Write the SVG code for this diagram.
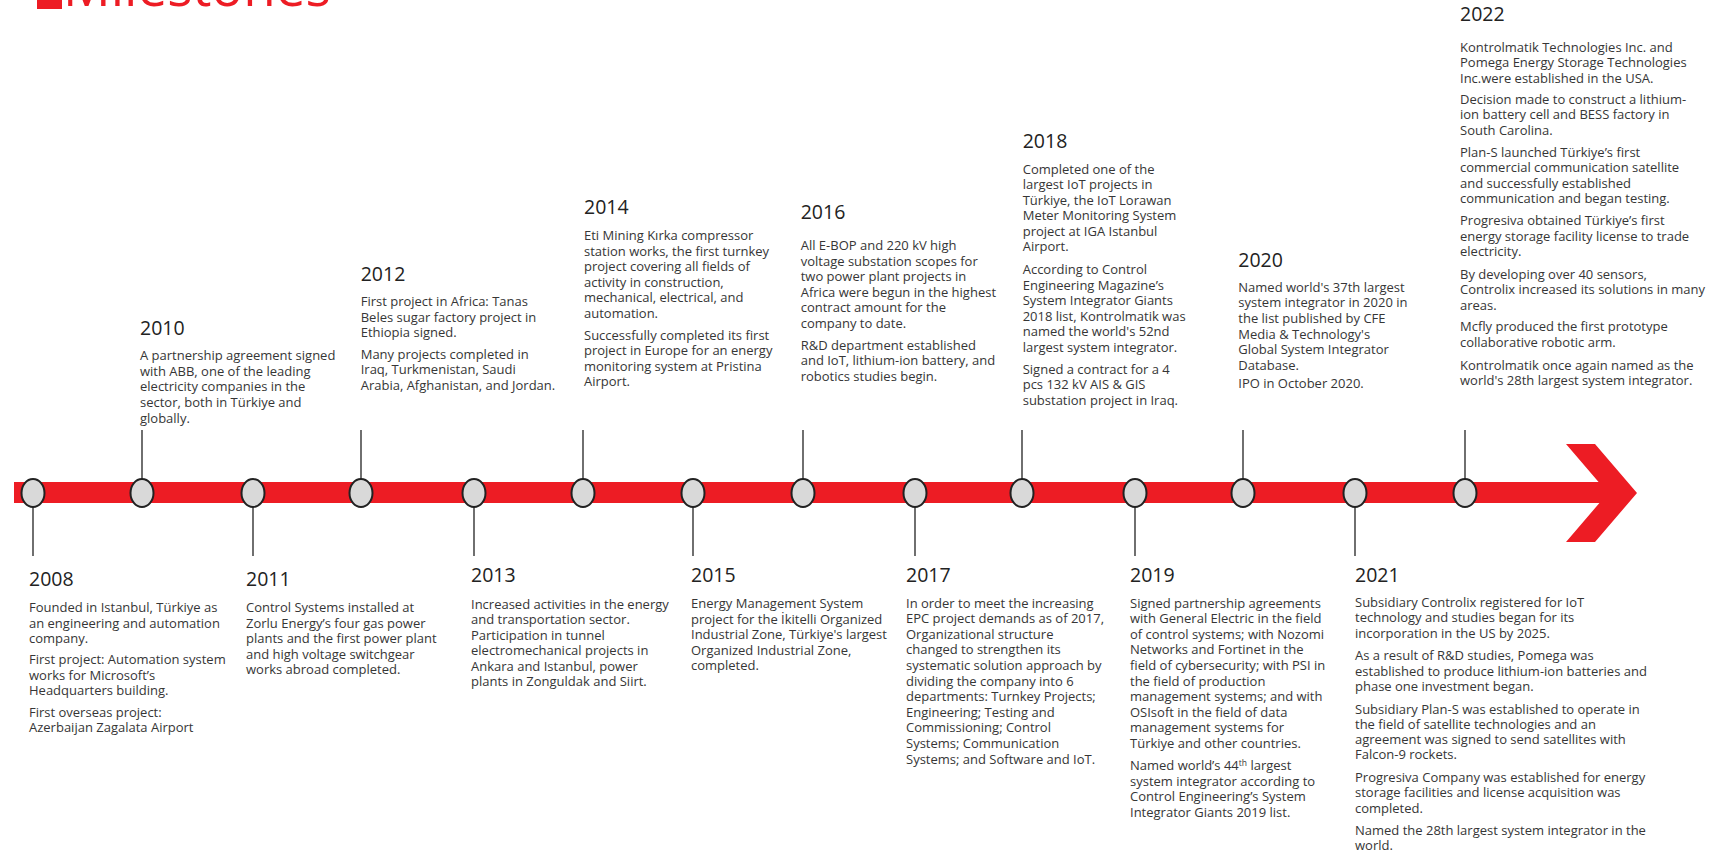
<svg xmlns="http://www.w3.org/2000/svg" width="1715" height="853" viewBox="0 0 1715 853">
<style>
.yr{font-family:"Open Sans","Noto Sans",sans-serif;font-size:19.5px;fill:#222}
.bd{font-family:"Open Sans","Noto Sans",sans-serif;font-size:13px;fill:#363636}
.dot{fill:#d9d9d9;stroke:#222;stroke-width:2}
.stem{stroke:#222;stroke-width:1.3}
.red{fill:#ed1c24}
</style>
<rect width="1715" height="853" fill="#fff"/>
<g id="title">
<rect class="red" x="37" y="-20" width="25" height="29"/>
<text x="63" y="6" font-family="Open Sans, sans-serif" font-size="53" fill="#ed1c24">Milestones</text>
</g>
<g id="timeline">
<rect class="red" x="14" y="482" width="1596" height="21"/>
<polygon class="red" points="1566,444 1595,444 1637,493 1595,542 1566,542 1608,493"/>
</g>
<g id="connectors">
<line class="stem" x1="33" y1="507" x2="33" y2="556"/>
<line class="stem" x1="142" y1="430" x2="142" y2="479"/>
<line class="stem" x1="253" y1="507" x2="253" y2="556"/>
<line class="stem" x1="361" y1="430" x2="361" y2="479"/>
<line class="stem" x1="474" y1="507" x2="474" y2="556"/>
<line class="stem" x1="583" y1="430" x2="583" y2="479"/>
<line class="stem" x1="693" y1="507" x2="693" y2="556"/>
<line class="stem" x1="803" y1="430" x2="803" y2="479"/>
<line class="stem" x1="915" y1="507" x2="915" y2="556"/>
<line class="stem" x1="1022" y1="430" x2="1022" y2="479"/>
<line class="stem" x1="1135" y1="507" x2="1135" y2="556"/>
<line class="stem" x1="1243" y1="430" x2="1243" y2="479"/>
<line class="stem" x1="1355" y1="507" x2="1355" y2="556"/>
<line class="stem" x1="1465" y1="430" x2="1465" y2="479"/>
</g>
<g id="m2008">
<ellipse class="dot" cx="33" cy="493" rx="11.5" ry="14"/>
<text class="yr" x="29" y="585.5">2008</text>
<text class="bd" x="29" y="612">Founded in Istanbul, Türkiye as</text>
<text class="bd" x="29" y="627.5">an engineering and automation</text>
<text class="bd" x="29" y="643">company.</text>
<text class="bd" x="29" y="664">First project: Automation system</text>
<text class="bd" x="29" y="679.5">works for Microsoft’s</text>
<text class="bd" x="29" y="695">Headquarters building.</text>
<text class="bd" x="29" y="716.5">First overseas project:</text>
<text class="bd" x="29" y="732">Azerbaijan Zagalata Airport</text>
</g>
<g id="m2010">
<ellipse class="dot" cx="142" cy="493" rx="11.5" ry="14"/>
<text class="yr" x="140" y="334.7">2010</text>
<text class="bd" x="140" y="360">A partnership agreement signed</text>
<text class="bd" x="140" y="375.7">with ABB, one of the leading</text>
<text class="bd" x="140" y="391.4">electricity companies in the</text>
<text class="bd" x="140" y="407.1">sector, both in Türkiye and</text>
<text class="bd" x="140" y="422.8">globally.</text>
</g>
<g id="m2011">
<ellipse class="dot" cx="253" cy="493" rx="11.5" ry="14"/>
<text class="yr" x="246" y="585.5">2011</text>
<text class="bd" x="246" y="612">Control Systems installed at</text>
<text class="bd" x="246" y="627.5">Zorlu Energy’s four gas power</text>
<text class="bd" x="246" y="643">plants and the first power plant</text>
<text class="bd" x="246" y="658.5">and high voltage switchgear</text>
<text class="bd" x="246" y="674">works abroad completed.</text>
</g>
<g id="m2012">
<ellipse class="dot" cx="361" cy="493" rx="11.5" ry="14"/>
<text class="yr" x="360.7" y="280.7">2012</text>
<text class="bd" x="360.7" y="306.2">First project in Africa: Tanas</text>
<text class="bd" x="360.7" y="321.7">Beles sugar factory project in</text>
<text class="bd" x="360.7" y="337.2">Ethiopia signed.</text>
<text class="bd" x="360.7" y="358.5">Many projects completed in</text>
<text class="bd" x="360.7" y="374.2">Iraq, Turkmenistan, Saudi</text>
<text class="bd" x="360.7" y="389.9">Arabia, Afghanistan, and Jordan.</text>
</g>
<g id="m2013">
<ellipse class="dot" cx="474" cy="493" rx="11.5" ry="14"/>
<text class="yr" x="471" y="582">2013</text>
<text class="bd" x="471" y="608.5">Increased activities in the energy</text>
<text class="bd" x="471" y="624">and transportation sector.</text>
<text class="bd" x="471" y="639.5">Participation in tunnel</text>
<text class="bd" x="471" y="655">electromechanical projects in</text>
<text class="bd" x="471" y="670.5">Ankara and Istanbul, power</text>
<text class="bd" x="471" y="686">plants in Zonguldak and Siirt.</text>
</g>
<g id="m2014">
<ellipse class="dot" cx="583" cy="493" rx="11.5" ry="14"/>
<text class="yr" x="584" y="214">2014</text>
<text class="bd" x="584" y="240.2">Eti Mining Kırka compressor</text>
<text class="bd" x="584" y="255.6">station works, the first turnkey</text>
<text class="bd" x="584" y="271">project covering all fields of</text>
<text class="bd" x="584" y="286.5">activity in construction,</text>
<text class="bd" x="584" y="302">mechanical, electrical, and</text>
<text class="bd" x="584" y="317.5">automation.</text>
<text class="bd" x="584" y="339.5">Successfully completed its first</text>
<text class="bd" x="584" y="355.1">project in Europe for an energy</text>
<text class="bd" x="584" y="370.7">monitoring system at Pristina</text>
<text class="bd" x="584" y="386.3">Airport.</text>
</g>
<g id="m2015">
<ellipse class="dot" cx="693" cy="493" rx="11.5" ry="14"/>
<text class="yr" x="691" y="582">2015</text>
<text class="bd" x="691" y="608">Energy Management System</text>
<text class="bd" x="691" y="623.5">project for the İkitelli Organized</text>
<text class="bd" x="691" y="639">Industrial Zone, Türkiye's largest</text>
<text class="bd" x="691" y="654.5">Organized Industrial Zone,</text>
<text class="bd" x="691" y="670">completed.</text>
</g>
<g id="m2016">
<ellipse class="dot" cx="803" cy="493" rx="11.5" ry="14"/>
<text class="yr" x="800.7" y="219">2016</text>
<text class="bd" x="800.7" y="250">All E-BOP and 220 kV high</text>
<text class="bd" x="800.7" y="265.5">voltage substation scopes for</text>
<text class="bd" x="800.7" y="281">two power plant projects in</text>
<text class="bd" x="800.7" y="296.5">Africa were begun in the highest</text>
<text class="bd" x="800.7" y="312">contract amount for the</text>
<text class="bd" x="800.7" y="327.5">company to date.</text>
<text class="bd" x="800.7" y="349.5">R&amp;D department established</text>
<text class="bd" x="800.7" y="365.2">and IoT, lithium-ion battery, and</text>
<text class="bd" x="800.7" y="380.9">robotics studies begin.</text>
</g>
<g id="m2017">
<ellipse class="dot" cx="915" cy="493" rx="11.5" ry="14"/>
<text class="yr" x="906" y="582">2017</text>
<text class="bd" x="906" y="607.5">In order to meet the increasing</text>
<text class="bd" x="906" y="623.1">EPC project demands as of 2017,</text>
<text class="bd" x="906" y="638.7">Organizational structure</text>
<text class="bd" x="906" y="654.3">changed to strengthen its</text>
<text class="bd" x="906" y="669.9">systematic solution approach by</text>
<text class="bd" x="906" y="685.5">dividing the company into 6</text>
<text class="bd" x="906" y="701.1">departments: Turnkey Projects;</text>
<text class="bd" x="906" y="716.7">Engineering; Testing and</text>
<text class="bd" x="906" y="732.3">Commissioning; Control</text>
<text class="bd" x="906" y="747.9">Systems; Communication</text>
<text class="bd" x="906" y="763.5">Systems; and Software and IoT.</text>
</g>
<g id="m2018">
<ellipse class="dot" cx="1022" cy="493" rx="11.5" ry="14"/>
<text class="yr" x="1022.7" y="148.3">2018</text>
<text class="bd" x="1022.7" y="173.5">Completed one of the</text>
<text class="bd" x="1022.7" y="189">largest IoT projects in</text>
<text class="bd" x="1022.7" y="204.5">Türkiye, the IoT Lorawan</text>
<text class="bd" x="1022.7" y="220">Meter Monitoring System</text>
<text class="bd" x="1022.7" y="235.5">project at IGA Istanbul</text>
<text class="bd" x="1022.7" y="251">Airport.</text>
<text class="bd" x="1022.7" y="274.2">According to Control</text>
<text class="bd" x="1022.7" y="289.7">Engineering Magazine’s</text>
<text class="bd" x="1022.7" y="305.2">System Integrator Giants</text>
<text class="bd" x="1022.7" y="320.7">2018 list, Kontrolmatik was</text>
<text class="bd" x="1022.7" y="336.2">named the world's 52nd</text>
<text class="bd" x="1022.7" y="351.7">largest system integrator.</text>
<text class="bd" x="1022.7" y="373.5">Signed a contract for a 4</text>
<text class="bd" x="1022.7" y="389">pcs 132 kV AIS &amp; GIS</text>
<text class="bd" x="1022.7" y="404.5">substation project in Iraq.</text>
</g>
<g id="m2019">
<ellipse class="dot" cx="1135" cy="493" rx="11.5" ry="14"/>
<text class="yr" x="1130" y="582">2019</text>
<text class="bd" x="1130" y="607.5">Signed partnership agreements</text>
<text class="bd" x="1130" y="623.1">with General Electric in the field</text>
<text class="bd" x="1130" y="638.7">of control systems; with Nozomi</text>
<text class="bd" x="1130" y="654.3">Networks and Fortinet in the</text>
<text class="bd" x="1130" y="669.9">field of cybersecurity; with PSI in</text>
<text class="bd" x="1130" y="685.5">the field of production</text>
<text class="bd" x="1130" y="701.1">management systems; and with</text>
<text class="bd" x="1130" y="716.7">OSIsoft in the field of data</text>
<text class="bd" x="1130" y="732.3">management systems for</text>
<text class="bd" x="1130" y="747.9">Türkiye and other countries.</text>
<text class="bd" x="1130" y="770">Named world’s 44<tspan font-size="8.5" dy="-4.5">th</tspan><tspan dy="4.5"> largest</tspan></text>
<text class="bd" x="1130" y="785.6">system integrator according to</text>
<text class="bd" x="1130" y="801.2">Control Engineering’s System</text>
<text class="bd" x="1130" y="816.8">Integrator Giants 2019 list.</text>
</g>
<g id="m2020">
<ellipse class="dot" cx="1243" cy="493" rx="11.5" ry="14"/>
<text class="yr" x="1238.3" y="267.3">2020</text>
<text class="bd" x="1238.3" y="291.8">Named world's 37th largest</text>
<text class="bd" x="1238.3" y="307.4">system integrator in 2020 in</text>
<text class="bd" x="1238.3" y="323">the list published by CFE</text>
<text class="bd" x="1238.3" y="338.6">Media &amp; Technology's</text>
<text class="bd" x="1238.3" y="354.2">Global System Integrator</text>
<text class="bd" x="1238.3" y="369.8">Database.</text>
<text class="bd" x="1238.3" y="388">IPO in October 2020.</text>
</g>
<g id="m2021">
<ellipse class="dot" cx="1355" cy="493" rx="11.5" ry="14"/>
<text class="yr" x="1355" y="582">2021</text>
<text class="bd" x="1355" y="606.8">Subsidiary Controlix registered for IoT</text>
<text class="bd" x="1355" y="622.3">technology and studies began for its</text>
<text class="bd" x="1355" y="637.8">incorporation in the US by 2025.</text>
<text class="bd" x="1355" y="660.2">As a result of R&amp;D studies, Pomega was</text>
<text class="bd" x="1355" y="675.7">established to produce lithium-ion batteries and</text>
<text class="bd" x="1355" y="691.2">phase one investment began.</text>
<text class="bd" x="1355" y="713.5">Subsidiary Plan-S was established to operate in</text>
<text class="bd" x="1355" y="728.7">the field of satellite technologies and an</text>
<text class="bd" x="1355" y="743.9">agreement was signed to send satellites with</text>
<text class="bd" x="1355" y="759.2">Falcon-9 rockets.</text>
<text class="bd" x="1355" y="781.8">Progresiva Company was established for energy</text>
<text class="bd" x="1355" y="797.1">storage facilities and license acquisition was</text>
<text class="bd" x="1355" y="812.5">completed.</text>
<text class="bd" x="1355" y="834.5">Named the 28th largest system integrator in the</text>
<text class="bd" x="1355" y="849.5">world.</text>
</g>
<g id="m2022">
<ellipse class="dot" cx="1465" cy="493" rx="11.5" ry="14"/>
<text class="yr" x="1460" y="20.7">2022</text>
<text class="bd" x="1460" y="51.8">Kontrolmatik Technologies Inc. and</text>
<text class="bd" x="1460" y="67.3">Pomega Energy Storage Technologies</text>
<text class="bd" x="1460" y="82.8">Inc.were established in the USA.</text>
<text class="bd" x="1460" y="103.5">Decision made to construct a lithium-</text>
<text class="bd" x="1460" y="119">ion battery cell and BESS factory in</text>
<text class="bd" x="1460" y="134.5">South Carolina.</text>
<text class="bd" x="1460" y="156.8">Plan-S launched Türkiye’s first</text>
<text class="bd" x="1460" y="172.2">commercial communication satellite</text>
<text class="bd" x="1460" y="187.6">and successfully established</text>
<text class="bd" x="1460" y="203">communication and began testing.</text>
<text class="bd" x="1460" y="225.2">Progresiva obtained Türkiye’s first</text>
<text class="bd" x="1460" y="240.6">energy storage facility license to trade</text>
<text class="bd" x="1460" y="256">electricity.</text>
<text class="bd" x="1460" y="278.5">By developing over 40 sensors,</text>
<text class="bd" x="1460" y="294">Controlix increased its solutions in many</text>
<text class="bd" x="1460" y="309.5">areas.</text>
<text class="bd" x="1460" y="331.2">Mcfly produced the first prototype</text>
<text class="bd" x="1460" y="346.8">collaborative robotic arm.</text>
<text class="bd" x="1460" y="369.5">Kontrolmatik once again named as the</text>
<text class="bd" x="1460" y="385">world's 28th largest system integrator.</text>
</g>
</svg>
